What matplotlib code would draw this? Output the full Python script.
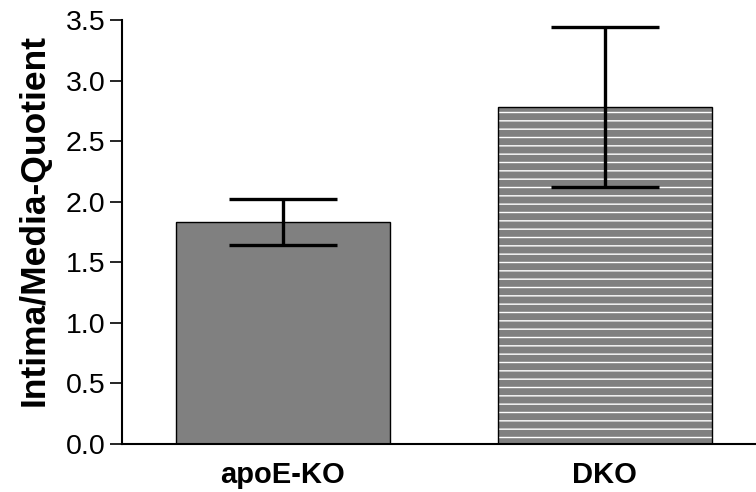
import matplotlib.pyplot as plt

plt.rcParams['font.family'] = ['Liberation Sans', 'DejaVu Sans']

# data
groups = ["apoE-KO", "DKO"]
means = [1.83, 2.78]
errors = [0.19, 0.66]
hatches = ["", "--"]
yticks = [0.0, 0.5, 1.0, 1.5, 2.0, 2.5, 3.0, 3.5]

fig = plt.figure(figsize=(7.56, 4.92), dpi=100)
ax = fig.add_axes([0.1614, 0.0976, 0.8386, 0.8618])

x = list(range(len(groups)))
# fill (white hatch lines on grey)
ax.bar(x, means, width=0.665, color="#808080", linewidth=0, zorder=2)
for xi, m, h in zip(x, means, hatches):
    if h:
        ax.bar(xi, m, width=0.665, color="none", edgecolor="white",
               linewidth=0, hatch=h, zorder=2.5)
# outline
ax.bar(x, means, width=0.665, color="none", edgecolor="black",
       linewidth=1.0, zorder=3)

ax.errorbar(x, means, yerr=errors, fmt="none", ecolor="black",
            elinewidth=2.4, capsize=39, capthick=2.4, zorder=4)

ax.set_xlim(-0.5, 1.47)
ax.set_ylim(0, 3.5)
ax.set_yticks(yticks)
ax.set_yticklabels([f"{t:.1f}" for t in yticks], fontsize=20.5)
ax.set_xticks(x)
ax.set_xticklabels(groups, fontsize=21, fontweight="bold")
ax.tick_params(axis="x", length=0, pad=12)
ax.tick_params(axis="y", length=9, width=1.2, pad=3)
ax.set_ylabel("Intima/Media-Quotient", fontsize=25.5, fontweight="bold")
ax.yaxis.set_label_coords(-0.112, 0.528)

for s in ["top", "right"]:
    ax.spines[s].set_visible(False)
for s in ["left", "bottom"]:
    ax.spines[s].set_linewidth(1.5)

fig.savefig("out.png", dpi=100)
